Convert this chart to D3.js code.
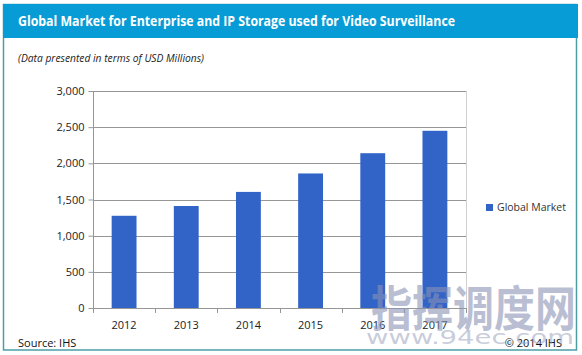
<!DOCTYPE html>
<html><head><meta charset="utf-8">
<script src="https://cdn.jsdelivr.net/npm/d3@7"></script>
<style>body{margin:0;background:#fff}svg{display:block}</style>
</head><body>
<svg id="c" width="582" height="355"></svg>
<script>
const categories = ["2012","2013","2014","2015","2016","2017"];
const values = [1275, 1410, 1605, 1860, 2140, 2450];
const yTicks = [0, 500, 1000, 1500, 2000, 2500, 3000];
const seriesName = "Global Market";
const title = "Global Market for Enterprise and IP Storage used for Video Surveillance";
const subtitle = "(Data presented in terms of USD Millions)";

const svg = d3.select("#c");
const font = "'Open Sans', 'DejaVu Sans', sans-serif";

// frame
svg.append("rect").attr("x",3.5).attr("y",4.5).attr("width",573).attr("height",345.5)
  .attr("fill","#fff").attr("stroke","#4b9ea6").attr("stroke-width",1.5);
svg.append("rect").attr("x",3).attr("y",4).attr("width",575).attr("height",34).attr("fill","#079cd6");
svg.append("text").attr("x",18).attr("y",26).attr("fill","#fff").attr("font-family",font)
  .attr("font-weight","bold").attr("font-size",14.5).attr("textLength",437).attr("lengthAdjust","spacingAndGlyphs").text(title);
svg.append("text").attr("x",18).attr("y",62).attr("fill","#222").attr("font-family",font)
  .attr("font-style","italic").attr("font-size",10.5).attr("textLength",186).attr("lengthAdjust","spacingAndGlyphs").text(subtitle);

const x = d3.scaleBand().domain(categories).range([93,466]).paddingInner(0.6).paddingOuter(0.3);
const y = d3.scaleLinear().domain([0,3000]).range([308,91]);

// gridlines
svg.append("g").selectAll("line").data(yTicks.filter(d=>d>0)).join("line")
  .attr("x1",93).attr("x2",466).attr("y1",d=>Math.round(y(d))+0.5).attr("y2",d=>Math.round(y(d))+0.5)
  .attr("stroke","#969696").attr("stroke-width",1);
svg.append("line").attr("x1",466.5).attr("x2",466.5).attr("y1",91).attr("y2",308).attr("stroke","#d0d0d0");

// bars
svg.append("g").selectAll("rect").data(values).join("rect")
  .attr("x",(d,i)=>x(categories[i])).attr("width",x.bandwidth())
  .attr("y",d=>y(d)).attr("height",d=>y(0)-y(d)).attr("fill","#3264c8");

// y axis
const ya = svg.append("g").attr("transform","translate(93.5,0)")
  .call(d3.axisLeft(y).tickValues(yTicks).tickSize(5).tickFormat(d3.format(",")));
ya.select(".domain").attr("stroke","#969696").attr("d","M0,"+(y(3000)+0.5)+"V"+(y(0)+0.5));
ya.selectAll(".tick line").attr("stroke","#969696");
ya.selectAll(".tick text").attr("font-family",font).attr("font-size",11).attr("fill","#222").attr("x",-9);

// x axis
const xa = svg.append("g").attr("transform","translate(0,"+(Math.round(y(0))+0.5)+")")
  .call(d3.axisBottom(x).tickSize(0));
xa.select(".domain").attr("stroke","#969696").attr("d","M93,0H466");
xa.selectAll(".tick text").attr("font-family",font).attr("font-size",11).attr("fill","#222").attr("dy","1.55em");
svg.append("g").selectAll("line").data(d3.range(categories.length+1)).join("line")
  .attr("x1",i=>Math.round(93+ i*(373/categories.length))+0.5).attr("x2",i=>Math.round(93+ i*(373/categories.length))+0.5)
  .attr("y1",y(0)).attr("y2",y(0)+5).attr("stroke","#969696");

// legend
svg.append("rect").attr("x",486).attr("y",204).attr("width",7).attr("height",7).attr("fill","#3264c8");
svg.append("text").attr("x",497).attr("y",211).attr("font-family",font).attr("font-size",10.5).attr("fill","#333")
  .attr("textLength",69).attr("lengthAdjust","spacingAndGlyphs").text(seriesName);

// source
svg.append("text").attr("x",18).attr("y",347).attr("font-family",font).attr("font-size",11).attr("fill","#111").text("Source: IHS");
svg.append("text").attr("x",562).attr("y",347).attr("text-anchor","end").attr("font-family",font).attr("font-size",11).attr("fill","#111").text("© 2014 IHS");

// watermark
svg.append("text").attr("x",371).attr("y",326).attr("font-family","'Noto Sans CJK SC', sans-serif").attr("font-weight","bold")
  .attr("font-size",48).attr("fill","#8a93b5").attr("fill-opacity",0.6).attr("textLength",205).attr("lengthAdjust","spacingAndGlyphs").text("指挥调度网");
svg.append("text").attr("x",366).attr("y",344).attr("font-family","'DejaVu Sans', sans-serif")
  .attr("font-size",19).attr("fill","#9aa2bd").attr("fill-opacity",0.55).attr("textLength",208).attr("lengthAdjust","spacingAndGlyphs").text("www.94ec.com");
</script>
</body></html>
